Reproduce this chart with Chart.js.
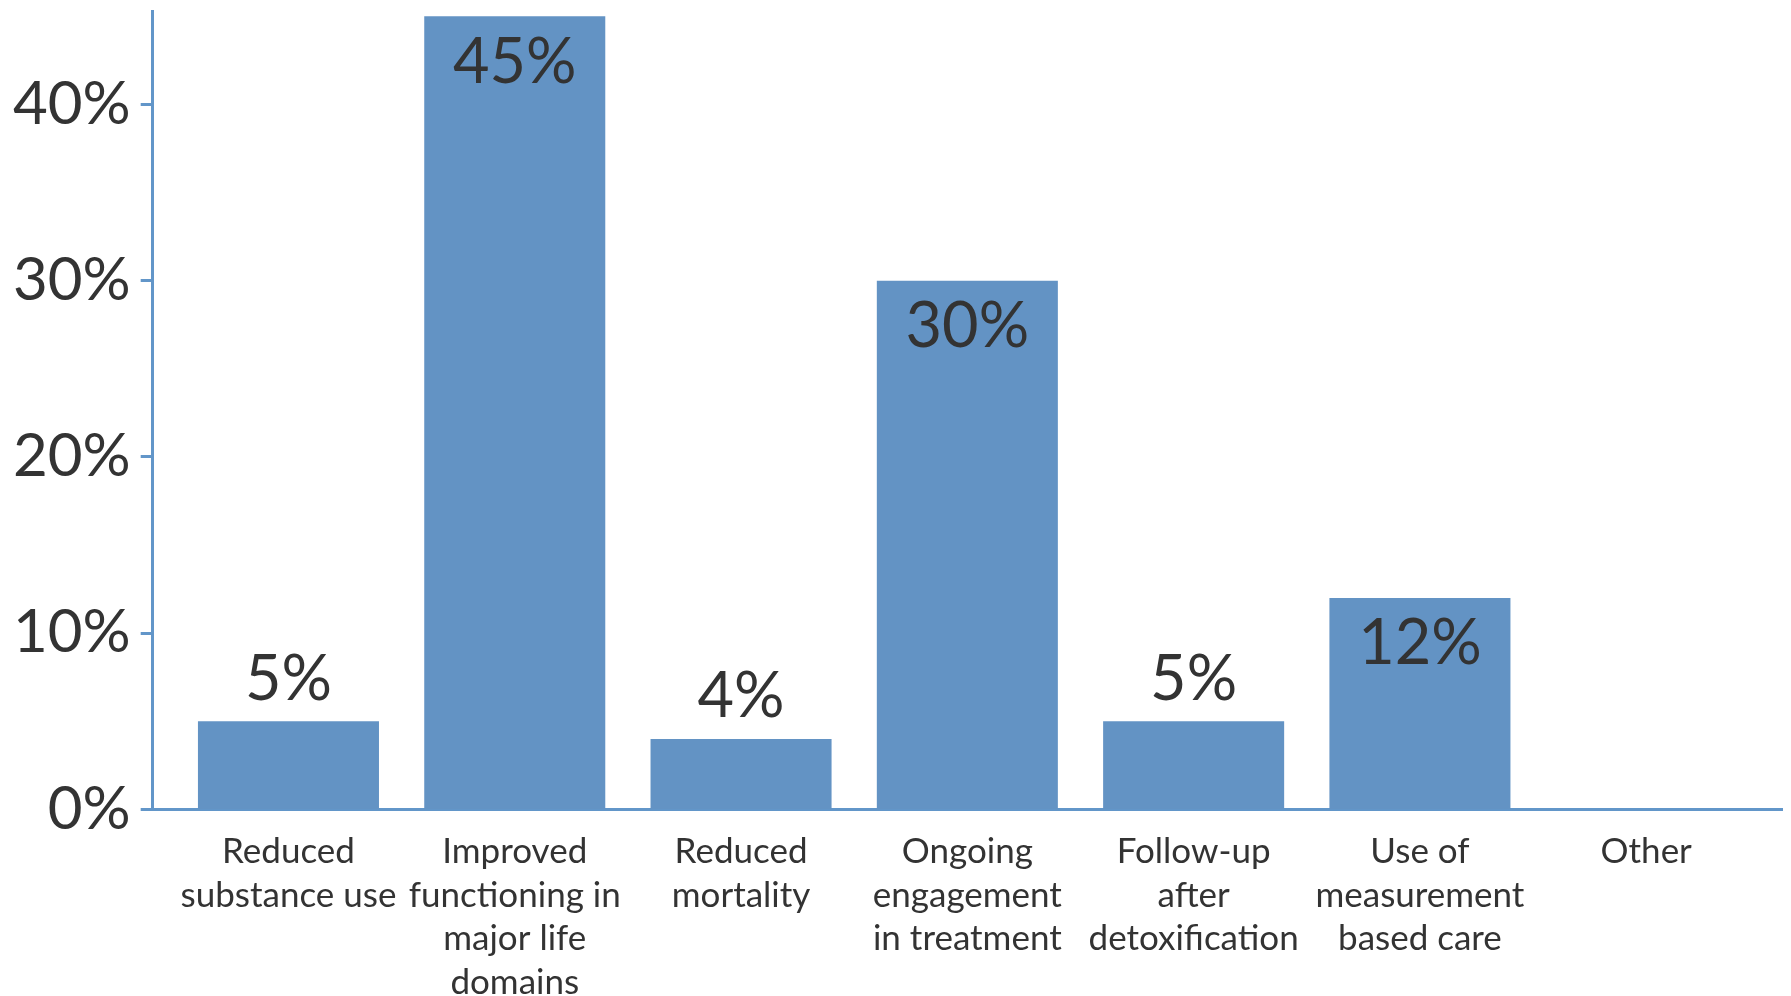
<!DOCTYPE html>
<html>
<head>
<meta charset="utf-8">
<script src="https://cdn.jsdelivr.net/npm/chart.js@4.4.1/dist/chart.umd.min.js"></script>
<style>
  html, body { margin: 0; padding: 0; background: #fff; }
  #wrap { width: 1791px; height: 996px; position: relative; }
</style>
</head>
<body>
<div id="wrap"><canvas id="outcomes"></canvas></div>
<script>
// categories, one array of lines per bar
const categories = [
  ['Reduced', 'substance use'],
  ['Improved', 'functioning in', 'major life', 'domains'],
  ['Reduced', 'mortality'],
  ['Ongoing', 'engagement', 'in treatment'],
  ['Follow-up', 'after', 'detoxification'],
  ['Use of', 'measurement', 'based care'],
  ['Other'],
];
const shares = [5, 45, 4, 30, 5, 12, 0];
const yTicks = [0, 10, 20, 30, 40];

const barColor = '#6393c4';
const axisColor = '#6296c9';
const textColor = '#333333';
const fontFamily = 'Lato, "Open Sans", sans-serif';

// value labels: above short bars, inside the top of tall ones
const valueLabels = {
  id: 'valueLabels',
  afterDatasetsDraw(chart) {
    const ctx = chart.ctx;
    const meta = chart.getDatasetMeta(0);
    ctx.save();
    ctx.font = '63px ' + fontFamily;
    ctx.fillStyle = textColor;
    ctx.textAlign = 'center';
    ctx.textBaseline = 'middle';
    meta.data.forEach((bar, i) => {
      const v = shares[i];
      if (!v) return;
      const y = v >= 10 ? bar.y + 46 : bar.y - 42;
      ctx.fillText(v + '%', bar.x, y);
    });
    ctx.restore();
  }
};

const ctx = document.getElementById('outcomes').getContext('2d');
new Chart(ctx, {
  type: 'bar',
  data: {
    datasets: [{
      data: shares.map((v, i) => ({ x: i, y: v })),
      backgroundColor: barColor,
      borderWidth: 0,
      barPercentage: 1,
      categoryPercentage: 0.8,
    }]
  },
  options: {
    responsive: true,
    maintainAspectRatio: false,
    animation: false,
    layout: { padding: { top: 11, right: 9, left: 3, bottom: -29 } },
    plugins: {
      legend: { display: false },
      tooltip: { enabled: false },
    },
    scales: {
      x: {
        type: 'linear',
        offset: false,
        min: -0.6,
        max: 6.6,
        grid: { display: false, drawTicks: false },
        border: { display: true, color: axisColor, width: 3 },
        afterBuildTicks: axis => {
          axis.ticks = categories.map((c, i) => ({ value: i }));
        },
        ticks: {
          autoSkip: false,
          maxRotation: 0,
          padding: 21,
          color: textColor,
          font: { family: fontFamily, size: 35, lineHeight: 1.24 },
          callback: v => categories[v],
        },
      },
      y: {
        min: 0,
        max: 45.3,
        grid: {
          drawOnChartArea: false,
          drawTicks: true,
          tickLength: 12,
          tickWidth: 3,
          color: axisColor,
        },
        border: { display: true, color: axisColor, width: 3 },
        afterBuildTicks: axis => {
          axis.ticks = yTicks.map(v => ({ value: v }));
        },
        // the top tick sits well below the axis end, so no label margin is needed
        afterFit: axis => {
          axis.paddingTop = 0;
          axis.paddingBottom = 0;
        },
        ticks: {
          padding: 10,
          color: textColor,
          font: { family: fontFamily, size: 60 },
          callback: v => v + '%',
        },
      },
    },
  },
  plugins: [valueLabels],
});
</script>
</body>
</html>
